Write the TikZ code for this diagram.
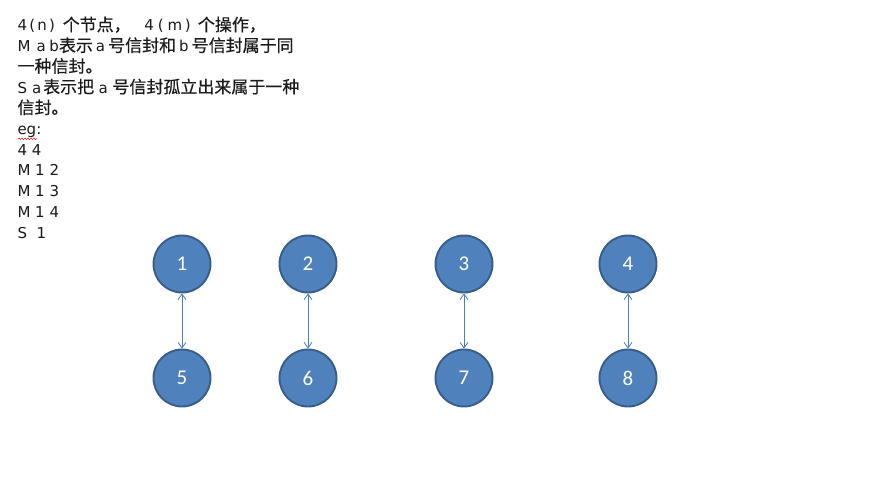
\documentclass[tikz,border=0pt]{standalone}
\usepackage{fontspec}
\setmainfont{DejaVu Sans}
\newfontfamily\cjk[Scale=1.1333,FakeBold=0.35]{Noto Sans CJK SC}
\newfontfamily\numfont{Carlito}
\usetikzlibrary{arrows.meta,decorations.pathmorphing}
\newcommand\cjkt[1]{{\cjk #1}}
\newcommand\gp{\hspace{3pt}}
\definecolor{nodefill}{HTML}{4F81BD}
\definecolor{nodeline}{HTML}{385D8A}
\definecolor{arrowcol}{HTML}{4A7EBB}
\definecolor{spellred}{HTML}{E03030}
\definecolor{textcol}{HTML}{1A1A1A}
\tikzset{
  txt/.style={anchor=base west, inner sep=0pt, outer sep=0pt, font=\fontsize{15}{15}\selectfont, text=textcol},
  circ/.style={circle, minimum size=57pt, inner sep=0pt, fill=nodefill, draw=nodeline, line width=1.9pt, text=white, font=\numfont\fontsize{21}{21}\selectfont},
  arr/.style={draw=arrowcol, line width=0.8pt, {Straight Barb[length=5.5pt,width=8pt]}-{Straight Barb[length=5.5pt,width=8pt]}},
  squig/.style={draw=spellred, line width=0.6pt, decorate, decoration={snake, amplitude=0.8pt, segment length=3pt}}
}
\begin{document}
\begin{tikzpicture}[x=1pt,y=-1pt]
\useasboundingbox[fill=white] (0,0) rectangle (869,486);
% text lines
\node[txt] (l1) at (17.5,31) {4\hspace{2.3pt}(\hspace{2.2pt}n\hspace{2.2pt})\hspace{7.8pt}\cjkt{个节点，}\hspace{13.5pt}4\hspace{4.2pt}(\hspace{3.8pt}m\hspace{2.6pt})\hspace{7.2pt}\cjkt{个操作，}};
\node[txt] (l2) at (17.5,51.7) {M\hspace{6.3pt}a\hspace{3.5pt}b\cjkt{表示}\gp a\gp\cjkt{号信封和}\gp b\gp\cjkt{号信封属于同}};
\node[txt] (l3) at (17.5,72.4) {\cjkt{一种信封。}};
\node[txt] (l4) at (17.5,93.1) {S\hspace{5pt}a\hspace{2pt}\cjkt{表示把}\hspace{4.5pt}a\hspace{4.5pt}\cjkt{号信封孤立出来属于一种}};
\node[txt] (l5) at (17.5,113.8) {\cjkt{信封。}};
\node[txt] (l6) at (17.5,134.5) {eg:};
\node[txt] (l7) at (17.5,155.2) {4 4};
\node[txt] (l8) at (17.5,175.9) {M 1 2};
\node[txt] (l9) at (17.5,196.6) {M 1 3};
\node[txt] (l10) at (17.5,217.3) {M 1 4};
\node[txt] (l11) at (17.5,238) {S\hspace{9.5pt}1};
% spell-check underline
\coordinate (sq1) at (18,138.8);
\coordinate (sq2) at (37,138.8);
\draw[squig] (sq1) -- (sq2);
% nodes
\node[circ] (n1) at (182,264) {1};
\node[circ] (n2) at (308,264) {2};
\node[circ] (n3) at (464,264) {3};
\node[circ] (n4) at (628,264) {4};
\node[circ] (n5) at (182,378) {5};
\node[circ] (n6) at (308,378) {6};
\node[circ] (n7) at (464,378) {7};
\node[circ] (n8) at (628,378) {8};
% connectors
\draw[arr] (n1) -- (n5);
\draw[arr] (n2) -- (n6);
\draw[arr] (n3) -- (n7);
\draw[arr] (n4) -- (n8);
\end{tikzpicture}
\end{document}
